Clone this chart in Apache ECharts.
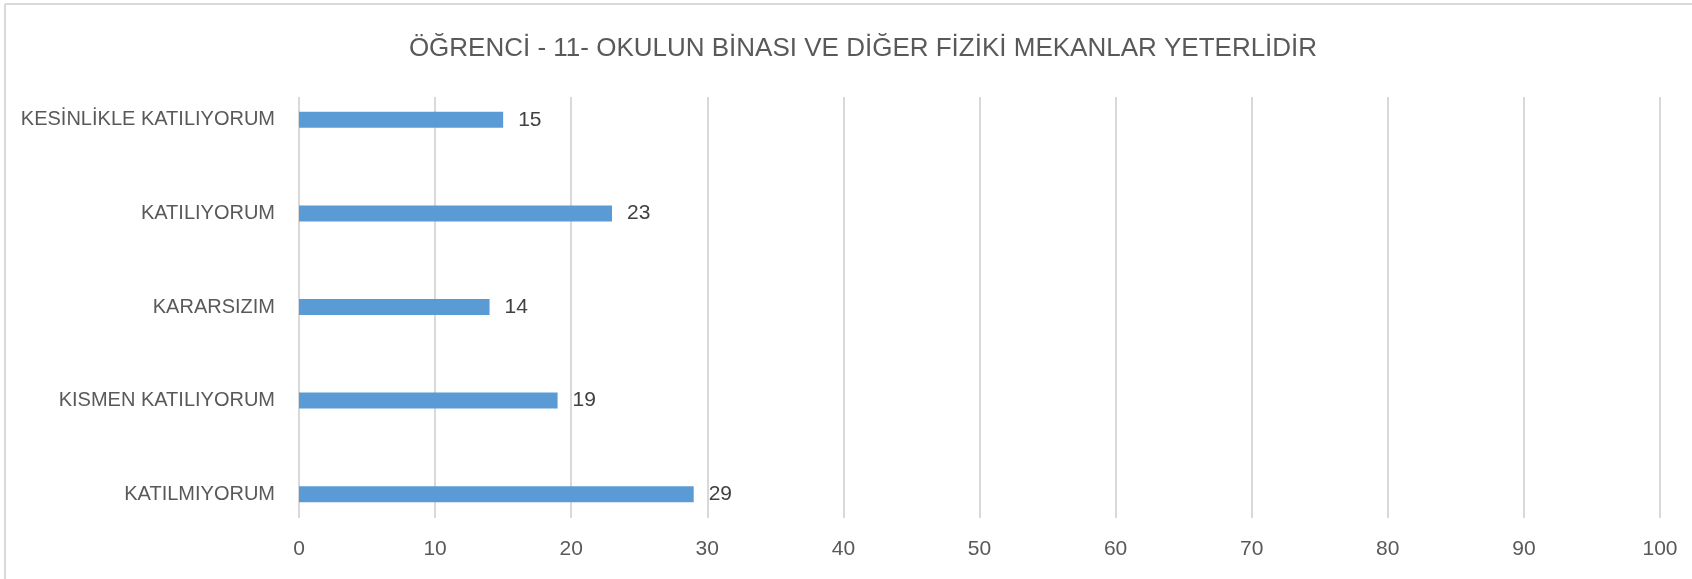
<!DOCTYPE html>
<html>
<head>
<meta charset="utf-8">
<script src="https://cdn.jsdelivr.net/npm/echarts@6/dist/echarts.min.js"></script>
<style>
html,body{margin:0;padding:0;background:#fff;}
#c{width:1692px;height:579px;}
</style>
</head>
<body>
<div id="c"></div>
<script>
var titleText = 'ÖĞRENCİ - 11- OKULUN BİNASI VE DİĞER FİZİKİ MEKANLAR YETERLİDİR';
var categories = ['KESİNLİKLE KATILIYORUM', 'KATILIYORUM', 'KARARSIZIM', 'KISMEN KATILIYORUM', 'KATILMIYORUM'];
var values = [15, 23, 14, 19, 29];
var xMin = 0, xMax = 100, xStep = 10;

var font = '"Liberation Sans", Arial, sans-serif';
var chart = echarts.init(document.getElementById('c'), null, {renderer: 'canvas'});
chart.setOption({
  animation: false,
  backgroundColor: '#ffffff',
  title: {
    text: titleText,
    left: 858,
    top: 31,
    textAlign: 'center',
    textStyle: {fontFamily: font, fontSize: 26, fontWeight: 'normal', color: '#595959'}
  },
  graphic: [
    {type: 'line', shape: {x1: 5, y1: 4, x2: 1692, y2: 4}, style: {stroke: '#d9d9d9', lineWidth: 2}, silent: true},
    {type: 'line', shape: {x1: 5, y1: 4, x2: 5, y2: 579}, style: {stroke: '#d9d9d9', lineWidth: 2}, silent: true}
  ],
  grid: [
    {left: 299, right: 32, top: 73, height: 468, containLabel: false},
    {left: 299, right: 32, top: 97, height: 421, containLabel: false}
  ],
  xAxis: [
    {gridIndex: 0, type: 'value', min: xMin, max: xMax, interval: xStep, show: false},
    {gridIndex: 1, type: 'value', min: xMin, max: xMax, interval: xStep,
      axisLine: {show: false}, axisTick: {show: false},
      splitLine: {show: true, lineStyle: {color: '#d9d9d9', width: 2}},
      axisLabel: {margin: 21, color: '#595959', fontFamily: font, fontSize: 21}}
  ],
  yAxis: [
    {gridIndex: 0, type: 'category', inverse: true, data: categories,
      axisLine: {show: false}, axisTick: {show: false}, splitLine: {show: false},
      axisLabel: {margin: 24, color: '#595959', fontFamily: font, fontSize: 20}},
    {gridIndex: 1, type: 'value', show: false, min: 0, max: 1}
  ],
  series: [{
    type: 'bar',
    xAxisIndex: 0, yAxisIndex: 0,
    data: values,
    barWidth: 16,
    itemStyle: {color: '#5b9bd5'},
    label: {show: true, position: 'right', distance: 15, color: '#404040', fontFamily: font, fontSize: 21}
  }]
});
</script>
</body>
</html>
